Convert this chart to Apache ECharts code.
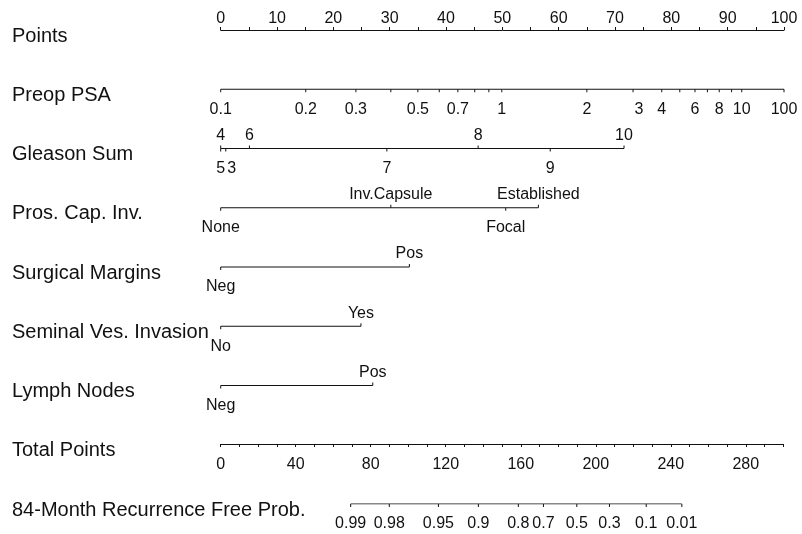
<!DOCTYPE html>
<html>
<head>
<meta charset="utf-8">
<script src="https://cdn.jsdelivr.net/npm/echarts@6/dist/echarts.min.js"></script>
<style>
  html, body { margin: 0; padding: 0; background: #fff; }
  #chart { width: 802px; height: 534px; }
</style>
</head>
<body>
<div id="chart"></div>
<script>
// Row titles, top to bottom
const rowNames = ['Points', 'Preop PSA', 'Gleason Sum', 'Pros. Cap. Inv.', 'Surgical Margins',
  'Seminal Ves. Invasion', 'Lymph Nodes', 'Total Points', '84-Month Recurrence Free Prob.'];

// Points scale (0-100)
const pointsTicks = [0, 5, 10, 15, 20, 25, 30, 35, 40, 45, 50, 55, 60, 65, 70, 75, 80, 85, 90, 95, 100];
const pointsLabels = [0, 10, 20, 30, 40, 50, 60, 70, 80, 90, 100];

// Preoperative PSA: value -> points
const psaValues = ['0.1', '0.2', '0.3', '0.4', '0.5', '0.6', '0.7', '0.8', '0.9', '1',
  '2', '3', '4', '5', '6', '7', '8', '9', '10', '100'];
const psaPoints = [0, 15.1, 24.0, 30.2, 35.0, 38.8, 42.1, 45.1, 47.6, 49.9,
  65.0, 73.2, 78.3, 81.5, 84.2, 86.4, 88.5, 90.7, 92.5, 100];
const psaShown = ['0.1', '0.2', '0.3', '0.5', '0.7', '1', '2', '3', '4', '6', '8', '10', '100'];

// Gleason sum
const gleasonValues = ['4', '5', '3', '6', '7', '8', '9', '10'];
const gleasonPoints = [0, 0, 0.9, 5.1, 29.5, 45.7, 58.5, 71.6];
const gleasonSides = ['up', 'down', 'down', 'up', 'down', 'up', 'down', 'up'];

// Prostatic capsular invasion
const pciValues = ['None', 'Inv.Capsule', 'Focal', 'Established'];
const pciPoints = [0, 30.2, 50.6, 56.4];
const pciSides = ['down', 'up', 'down', 'up'];

// Surgical margins
const smValues = ['Neg', 'Pos'];
const smPoints = [0, 33.5];

// Seminal vesicle invasion
const sviValues = ['No', 'Yes'];
const sviPoints = [0, 24.9];

// Lymph nodes
const lnValues = ['Neg', 'Pos'];
const lnPoints = [0, 27.0];

// Total points scale (0-300)
const totalTicks = [0, 10, 20, 30, 40, 50, 60, 70, 80, 90, 100, 110, 120, 130, 140, 150,
  160, 170, 180, 190, 200, 210, 220, 230, 240, 250, 260, 270, 280, 290, 300];
const totalLabels = [0, 40, 80, 120, 160, 200, 240, 280];

// 84-month recurrence-free probability: value -> total points
const probValues = ['0.99', '0.98', '0.95', '0.9', '0.8', '0.7', '0.5', '0.3', '0.1', '0.01'];
const probTotal = [69.3, 89.9, 116.1, 137.4, 158.7, 172.1, 189.9, 207.3, 226.9, 245.9];

// ---- styling ----
const FONT = 'Liberation Sans, Arial, Helvetica, sans-serif';
const INK = '#111';
const TICK_LEN = 3;
const UP_GAP = 13;
const DOWN_GAP = 20;
const labelShift = { '3': 6 };

const chart = echarts.init(document.getElementById('chart'), null, { renderer: 'canvas' });

// One scale row: baseline + ticks + labels
function scaleRow(row, values, points, sides, shown, axisIdx) {
  const data = points.map(p => [p, row]);
  const lo = Math.min.apply(null, points), hi = Math.max.apply(null, points);
  const base = {
    type: 'line',
    xAxisIndex: axisIdx, yAxisIndex: axisIdx,
    data: [[lo, row], [hi, row]],
    symbol: 'none', silent: true, animation: false,
    lineStyle: { color: INK, width: 1 }
  };
  const marks = {
    type: 'custom',
    xAxisIndex: axisIdx, yAxisIndex: axisIdx,
    data: data, silent: true, animation: false,
    renderItem: function (params, api) {
      const i = params.dataIndex;
      const c = api.coord([api.value(0), api.value(1)]);
      const up = sides ? sides[i] === 'up' : false;
      const dir = up ? -1 : 1;
      const children = [{
        type: 'line',
        shape: { x1: c[0], y1: c[1], x2: c[0], y2: c[1] + dir * TICK_LEN },
        style: { stroke: INK, lineWidth: 1 }
      }];
      const txt = values[i];
      if (!shown || shown.indexOf(txt) >= 0) {
        children.push({
          type: 'text',
          x: c[0] + (labelShift[txt] || 0),
          y: c[1] + (up ? -UP_GAP : DOWN_GAP),
          style: {
            text: txt, align: 'center', verticalAlign: 'middle',
            fontSize: 16, fontFamily: FONT, fill: INK
          }
        });
      }
      return { type: 'group', children: children };
    }
  };
  return [base, marks];
}

function upDown(arr, upName) {
  return arr.map(v => v === upName ? 'up' : 'down');
}

const series = [].concat(
  scaleRow(1, psaValues, psaPoints, null, psaShown, 0),
  scaleRow(2, gleasonValues, gleasonPoints, gleasonSides, null, 0),
  scaleRow(3, pciValues, pciPoints, pciSides, null, 0),
  scaleRow(4, smValues, smPoints, upDown(smValues, 'Pos'), null, 0),
  scaleRow(5, sviValues, sviPoints, upDown(sviValues, 'Yes'), null, 0),
  scaleRow(6, lnValues, lnPoints, upDown(lnValues, 'Pos'), null, 0),
  scaleRow(1, probValues, probTotal, null, null, 1)
);

const option = {
  animation: false,
  backgroundColor: '#fff',
  textStyle: { fontFamily: FONT, color: INK },
  grid: [
    { left: 220.7, right: 18, top: 30, bottom: 30, outerBoundsMode: 'none', containLabel: false },
    { left: 220.7, right: 18.7, top: 444, bottom: 30, outerBoundsMode: 'none', containLabel: false }
  ],
  xAxis: [
    {
      gridIndex: 0, type: 'value', min: 0, max: 100, position: 'top',
      axisLine: { show: true, lineStyle: { color: INK, width: 1 } },
      axisTick: { show: true, length: TICK_LEN, customValues: pointsTicks, lineStyle: { color: INK } },
      axisLabel: { customValues: pointsLabels, fontSize: 16, fontFamily: FONT, color: INK, margin: 3 },
      splitLine: { show: false }
    },
    {
      gridIndex: 1, type: 'value', min: 0, max: 300, position: 'top',
      axisLine: { show: true, lineStyle: { color: INK, width: 1 } },
      axisTick: { show: true, inside: true, length: TICK_LEN, customValues: totalTicks, lineStyle: { color: INK } },
      axisLabel: { inside: true, customValues: totalLabels, fontSize: 16, fontFamily: FONT, color: INK, margin: 13 },
      splitLine: { show: false }
    }
  ],
  yAxis: [
    {
      gridIndex: 0, type: 'value', min: 0, max: 8, interval: 1, inverse: true,
      axisLine: { show: false }, axisTick: { show: false }, splitLine: { show: false },
      axisLabel: {
        show: true, align: 'left', verticalAlign: 'top', margin: 208.7,
        showMinLabel: true, showMaxLabel: true,
        fontSize: 20, fontFamily: FONT, color: INK, padding: [-4, 0, 0, 0],
        formatter: v => rowNames[v] || ''
      }
    },
    {
      gridIndex: 1, type: 'value', min: 0, max: 1, inverse: true, show: false
    }
  ],
  series: series
};

chart.setOption(option);
</script>
</body>
</html>
